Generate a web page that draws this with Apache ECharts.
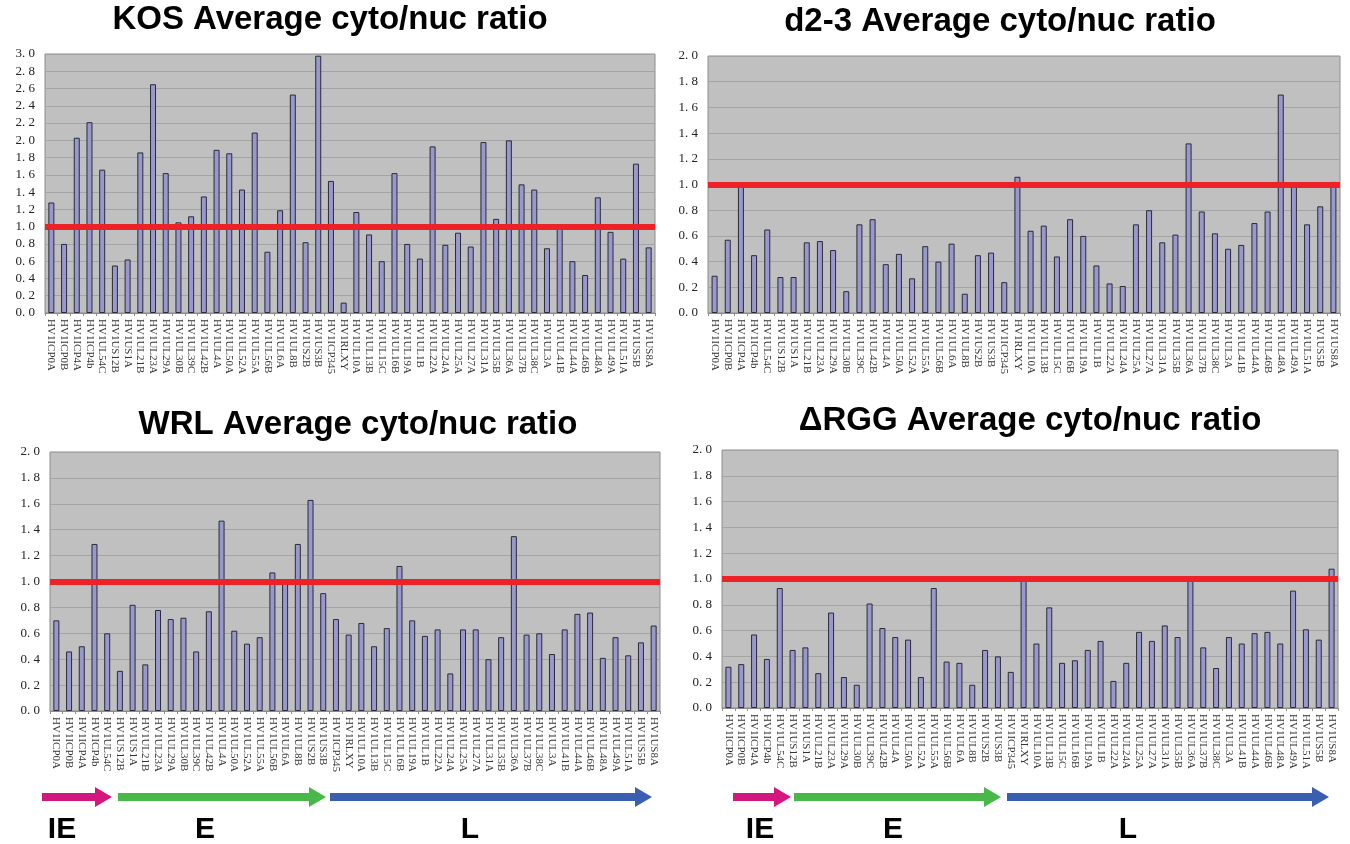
<!DOCTYPE html>
<html>
<head>
	<meta charset="utf-8"/>
	<title>cyto/nuc ratio</title>
	<script src="https://cdn.jsdelivr.net/npm/echarts@6/dist/echarts.min.js"></script>
	<style>
		html, body { margin: 0; padding: 0; background: #fff; }
		#chart { width: 1350px; height: 844px; }
	</style>
</head>
<body>
<div id="chart"></div>
<script>
// 基因名（四个图共用）
var genes = ['HV1ICP0A','HV1ICP0B','HV1ICP4A','HV1ICP4b','HV1UL54C','HV1US12B','HV1US1A','HV1UL21B',
	'HV1UL23A','HV1UL29A','HV1UL30B','HV1UL39C','HV1UL42B','HV1UL4A','HV1UL50A','HV1UL52A',
	'HV1UL55A','HV1UL56B','HV1UL6A','HV1UL8B','HV1US2B','HV1US3B','HV1ICP345','HV1RLXY',
	'HV1UL10A','HV1UL13B','HV1UL15C','HV1UL16B','HV1UL19A','HV1UL1B','HV1UL22A','HV1UL24A',
	'HV1UL25A','HV1UL27A','HV1UL31A','HV1UL35B','HV1UL36A','HV1UL37B','HV1UL38C','HV1UL3A',
	'HV1UL41B','HV1UL44A','HV1UL46B','HV1UL48A','HV1UL49A','HV1UL51A','HV1US5B','HV1US8A'];

var kos = [1.28,0.80,2.03,2.21,1.66,0.55,0.62,1.86,2.65,1.62,1.05,1.12,1.35,1.89,1.85,1.43,
	2.09,0.71,1.19,2.53,0.82,2.98,1.53,0.12,1.17,0.91,0.60,1.62,0.80,0.63,1.93,0.79,
	0.93,0.77,1.98,1.09,2.00,1.49,1.43,0.75,0.99,0.60,0.44,1.34,0.94,0.63,1.73,0.76];

var d23 = [0.29,0.57,0.99,0.45,0.65,0.28,0.28,0.55,0.56,0.49,0.17,0.69,0.73,0.38,0.46,0.27,
	0.52,0.40,0.54,0.15,0.45,0.47,0.24,1.06,0.64,0.68,0.44,0.73,0.60,0.37,0.23,0.21,
	0.69,0.80,0.55,0.61,1.32,0.79,0.62,0.50,0.53,0.70,0.79,1.70,0.99,0.69,0.83,1.02];

var wrl = [0.70,0.46,0.50,1.29,0.60,0.31,0.82,0.36,0.78,0.71,0.72,0.46,0.77,1.47,0.62,0.52,
	0.57,1.07,1.00,1.29,1.63,0.91,0.71,0.59,0.68,0.50,0.64,1.12,0.70,0.58,0.63,0.29,
	0.63,0.63,0.40,0.57,1.35,0.59,0.60,0.44,0.63,0.75,0.76,0.41,0.57,0.43,0.53,0.66];

var rgg = [0.32,0.34,0.57,0.38,0.93,0.45,0.47,0.27,0.74,0.24,0.18,0.81,0.62,0.55,0.53,0.24,
	0.93,0.36,0.35,0.18,0.45,0.40,0.28,0.99,0.50,0.78,0.35,0.37,0.45,0.52,0.21,0.35,
	0.59,0.52,0.64,0.55,1.02,0.47,0.31,0.55,0.50,0.58,0.59,0.50,0.91,0.61,0.53,1.08];

var titles = ['KOS Average cyto/nuc ratio','d2-3 Average cyto/nuc ratio',
	'WRL Average cyto/nuc ratio','\u0394RGG Average cyto/nuc ratio'];
var yMax = [3, 2, 2, 2];
var phases = ['IE', 'E', 'L'];

var dom = document.getElementById('chart');
var myChart = echarts.init(dom);

// 四个图的位置
var grids = [
	{left: 45, top: 54, width: 610, height: 259},
	{left: 708, top: 56, width: 632, height: 257},
	{left: 50, top: 452, width: 610, height: 259},
	{left: 722, top: 450, width: 616, height: 258}
];
var titlePos = [[330, 20], [1000, 22], [358, 425], [1030, 421]];
var allData = [kos, d23, wrl, rgg];

var xAxes = [], yAxes = [], series = [], graphics = [];
for (var i = 0; i < 4; i++) {
	grids[i].show = true;
	grids[i].backgroundColor = '#c0c0c0';
	grids[i].borderColor = '#8c8c8c';
	grids[i].borderWidth = 1;
	xAxes.push({
		type: 'category', gridIndex: i, data: genes,
		axisLine: {lineStyle: {color: '#8c8c8c'}},
		axisTick: {show: true, interval: 0, length: 3, lineStyle: {color: '#8c8c8c'}},
		axisLabel: {interval: 0, rotate: -90, margin: 6, fontSize: 11,
			fontFamily: '"Liberation Serif", serif', color: '#333'}
	});
	yAxes.push({
		type: 'value', gridIndex: i, min: 0, max: yMax[i], interval: 0.2,
		axisLine: {show: false}, axisTick: {show: false},
		splitLine: {lineStyle: {color: '#a4a4a4'}},
		axisLabel: {fontSize: 13, fontFamily: '"Liberation Serif", serif', color: '#222', margin: 10,
			formatter: function (v) { return v.toFixed(1).replace('.', '. '); }}
	});
	series.push({
		type: 'bar', xAxisIndex: i, yAxisIndex: i, data: allData[i],
		barWidth: 6,
		itemStyle: {color: '#9898cc', borderColor: '#2a2a3a', borderWidth: 1},
		markLine: {
			silent: true, symbol: ['none', 'none'], label: {show: false},
			lineStyle: {color: '#ec2227', width: 6, type: 'solid'},
			data: [{yAxis: 1}]
		}
	});
	graphics.push({
		type: 'text', z: 10,
		style: {text: titles[i], x: titlePos[i][0], y: titlePos[i][1], align: 'center', verticalAlign: 'middle',
			font: 'bold 33px "Liberation Sans", Arial', fill: '#000'}
	});
}

// 底部箭头 IE / E / L
function arrow(x1, x2, y, color) {
	var h = 4, hh = 10, hl = 17;
	return {
		type: 'polygon', z: 5,
		shape: {points: [[x1, y - h], [x2 - hl, y - h], [x2 - hl, y - hh], [x2, y],
			[x2 - hl, y + hh], [x2 - hl, y + h], [x1, y + h]]},
		style: {fill: color}
	};
}
var arrowColors = ['#d4177f', '#48b848', '#3a5fb0'];
var arrowSets = [
	[[42, 112], [118, 326], [330, 652]],
	[[733, 791], [794, 1001], [1007, 1329]]
];
var labelX = [[62, 205, 470], [760, 893, 1128]];
for (var s = 0; s < 2; s++) {
	for (var k = 0; k < 3; k++) {
		graphics.push(arrow(arrowSets[s][k][0], arrowSets[s][k][1], 797, arrowColors[k]));
		graphics.push({
			type: 'text', z: 5,
			style: {text: phases[k], x: labelX[s][k], y: 830, align: 'center', verticalAlign: 'middle',
				font: 'bold 30px "Liberation Sans", Arial', fill: '#000'}
		});
	}
}

var option = {
	animation: false,
	backgroundColor: '#fff',
	grid: grids,
	xAxis: xAxes,
	yAxis: yAxes,
	series: series,
	graphic: graphics
};
myChart.setOption(option, true);
</script>
</body>
</html>
